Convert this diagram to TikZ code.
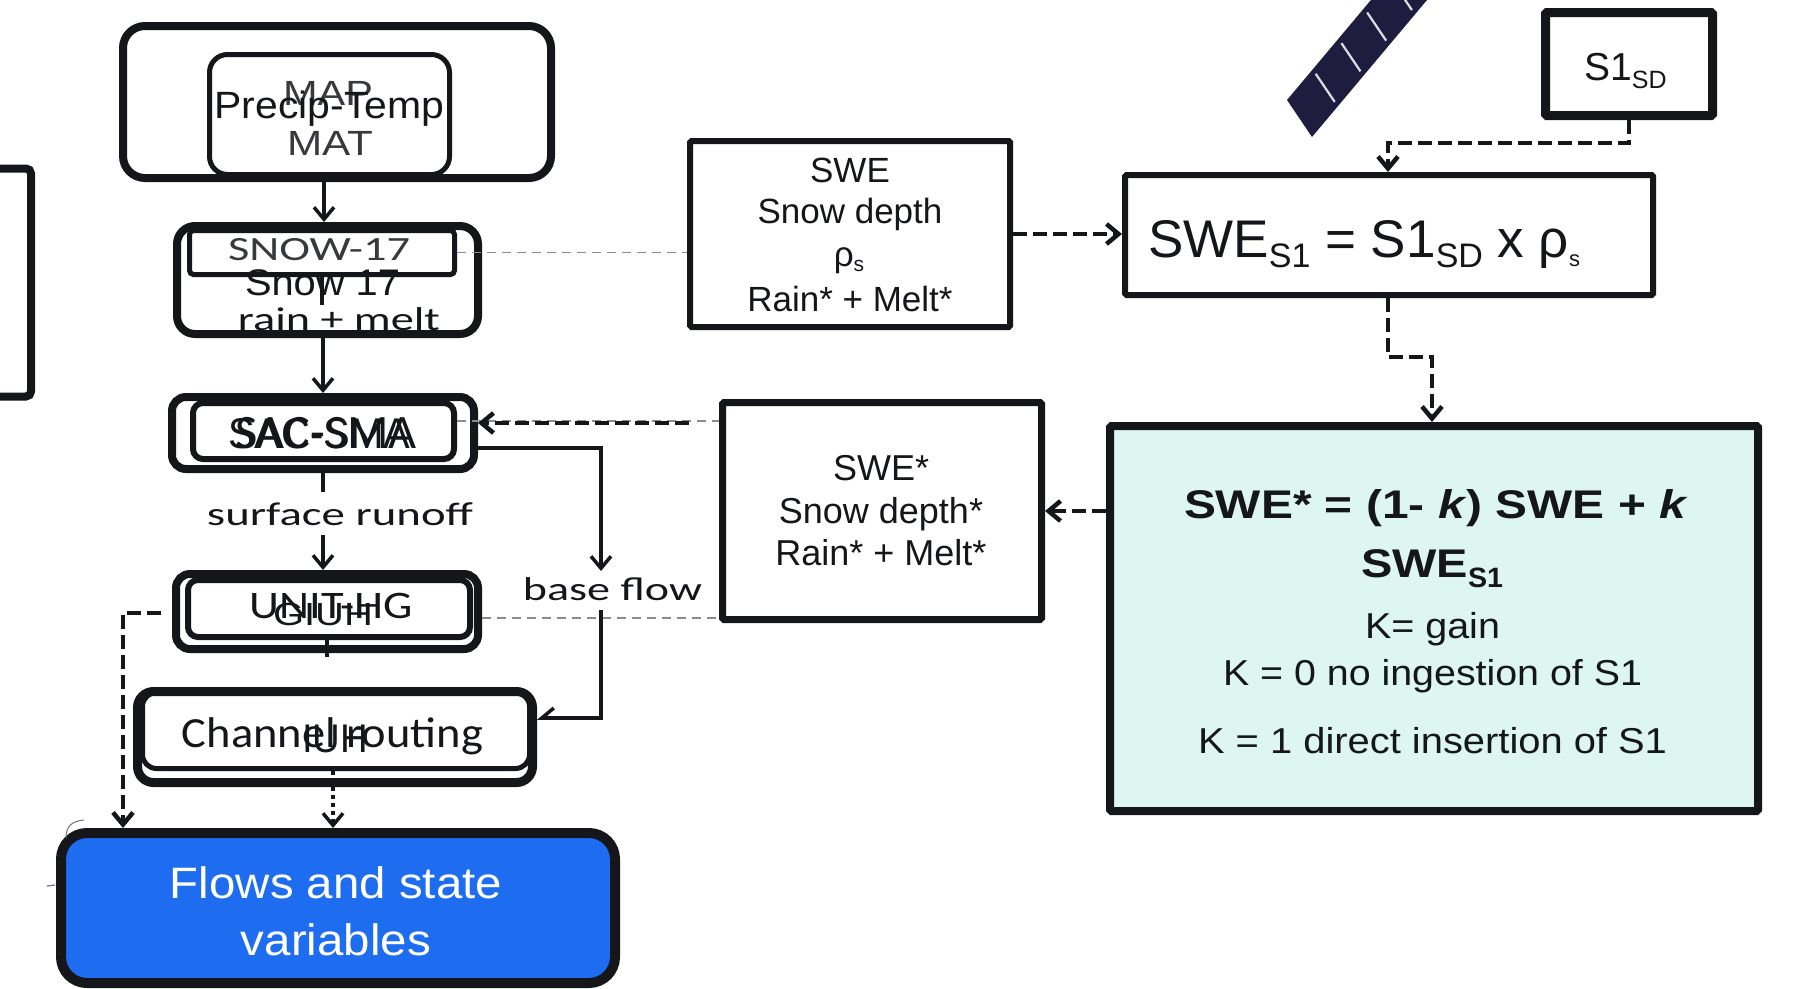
\documentclass[tikz,border=0pt]{standalone}
\usepackage{fontspec}
\usepackage{graphicx}
\setmainfont{Liberation Sans}
\newfontfamily\calib{Carlito}
\usetikzlibrary{arrows.meta,calc,shadows}

\definecolor{ink}{HTML}{141619}
\definecolor{flowblue}{RGB}{30,108,240}
\definecolor{kalfill}{RGB}{221,246,242}
\definecolor{panel}{HTML}{1F1D3F}

% font size in pt (1pt = 1 unit of the drawing)
\newcommand{\fs}[1]{\fontsize{#1}{#1}\selectfont}
% stretch a text to a given width, keeping its height
\newcommand{\fitw}[2]{\resizebox{#1pt}{\height}{#2}}

\tikzset{
  softshadow/.style={drop shadow={shadow xshift=2pt,shadow yshift=-3pt,opacity=0.15,fill=black}},
  rbox/.style={draw=ink, line width=8pt, fill=white, inner sep=0pt, rounded corners=16pt},
  ibox/.style={draw=ink, line width=5pt, inner sep=0pt, rounded corners=10pt},
  sbox/.style={draw=ink, line width=6pt, fill=white, inner sep=0pt, rounded corners=1.5pt},
  lbl/.style={anchor=base, inner sep=0pt, text=ink},
  plainline/.style={draw=ink, line width=3.5pt},
  arrowline/.style={draw=ink, line width=3.5pt, -{Straight Barb[length=12pt,width=20pt]}},
  halfarrow/.style={draw=ink, line width=3.5pt, -{Straight Barb[right,length=12pt,width=20pt]}},
  dasharrow/.style={arrowline, line width=4.5pt, dash pattern=on 14pt off 6pt},
  dotarrow/.style={arrowline, dash pattern=on 4pt off 4pt},
  greydash/.style={draw=black!45, line width=1.6pt, dash pattern=on 9pt off 6pt},
}

\begin{document}
\begin{tikzpicture}[x=1pt, y=-1pt]
\useasboundingbox (0,0) rectangle (1793,988);

% ---------------- left column: model chain ----------------
\node[sbox, line width=8pt, rounded corners=5pt, minimum width=131pt, minimum height=228pt] (sidebox) at (-34.5,282.5) {};

\node[rbox, softshadow, rounded corners=22pt, minimum width=428pt, minimum height=152pt] (preOut) at (337,102) {};
\node[ibox, rounded corners=18pt, minimum width=240pt, minimum height=120pt] (preIn) at (329.5,114.5) {};

\node[rbox, softshadow, rounded corners=18pt, minimum width=301pt, minimum height=108pt] (snOut) at (327.5,280) {};
\node[ibox, rounded corners=4pt, minimum width=265pt, minimum height=44pt] (snIn) at (322,252.5) {};

\node[rbox, softshadow, rounded corners=14pt, minimum width=302pt, minimum height=72pt] (sacOut) at (323,433) {};
\node[ibox, line width=6pt, minimum width=261pt, minimum height=56pt] (sacIn) at (323.5,431) {};

\node[rbox, softshadow, rounded corners=14pt, minimum width=302pt, minimum height=75pt] (unitOut) at (327,611.5) {};
\node[ibox, line width=6pt, minimum width=282pt, minimum height=57pt] (unitIn) at (329,608.5) {};

\node[rbox, softshadow, line width=9pt, minimum width=395pt, minimum height=91pt] (chanOut) at (335,737) {};
\node[ibox, rounded corners=14pt, minimum width=387pt, minimum height=76pt] (chanIn) at (336,730.5) {};

\node[rbox, line width=10pt, fill=flowblue, rounded corners=26pt, minimum width=554pt, minimum height=150pt] (flows) at (338,908) {};

% ---------------- right side: assimilation ----------------
\node[sbox, minimum width=320pt, minimum height=186pt] (swe) at (850,234) {};
\node[sbox, minimum width=528pt, minimum height=120pt] (sweS) at (1389,235) {};
\node[sbox, softshadow, line width=9pt, minimum width=167pt, minimum height=103pt] (sd) at (1629,64) {};
\node[sbox, line width=7pt, minimum width=319pt, minimum height=217pt] (sweStar) at (882,511) {};
\node[sbox, line width=8pt, fill=kalfill, minimum width=648pt, minimum height=385pt] (kal) at (1434,618.5) {};

% satellite solar panel
\begin{scope}
  \clip (0,0) rectangle (1793,988);
  \begin{scope}[shift={(1287,100)}, x={(0.643pt,0.766pt)}, y={(25pt,-37pt)}]
    \fill[panel] (0,0) -- (0,1) -- (230,1) -- (230,0) -- cycle;
    \foreach \d in {40,80,120,160,200}
      \draw[white!85!panel, line width=2.2pt] (\d,0.12) -- (\d,0.88);
  \end{scope}
\end{scope}

% ---------------- connectors ----------------
\coordinate (axisA) at (324,0);
\coordinate (axisB) at (323,0);
\coordinate (snStub) at (322,305);
\coordinate (uStub) at (327,657);
\coordinate (bfTop) at (601,571);
\coordinate (bfBot) at (601,610);
\coordinate (giuhOut) at (161,613);
\coordinate (leftRun) at (123,0);
\coordinate (dotCol) at (333,0);
\coordinate (sacFeed) at (689,423);
\coordinate (sdBend) at (1388,143);
\coordinate (kBend) at (1432,357);

% faint links to the state boxes
\draw[greydash] (snIn.east) -- (snIn.east -| swe.west);
\draw[greydash] ([yshift=10pt]sacIn.east) -- ([yshift=10pt]sacIn.east -| sweStar.west);
\draw[greydash] ([yshift=-6.5pt]unitOut.east) -- ([yshift=-6.5pt]unitOut.east -| sweStar.west);

\draw[arrowline] (preOut.south -| axisA) -- (snOut.north -| axisA);
\draw[arrowline] (snOut.south -| axisB) -- (sacOut.north -| axisB);
\draw[plainline] (snIn.south -| snStub) -- (snStub);
\draw[plainline] (unitIn.south -| uStub) -- (uStub);

\node[lbl, inner ysep=10pt] (runoff) at (340,525) {\calib\fs{33}\fitw{266}{surface runoff}};
\draw[plainline] (sacOut.south -| axisB) -- (runoff.north -| axisB);
\draw[arrowline] (runoff.south -| axisB) -- (unitOut.north -| axisB);

\draw[arrowline] ([yshift=-15pt]sacOut.east) -| (bfTop);
\draw[halfarrow] (bfBot) |- ([yshift=19pt]chanOut.east);

\draw[dasharrow] (giuhOut) -| (leftRun |- flows.north);
\draw[dotarrow] (chanIn.south -| dotCol) -- (dotCol |- flows.north);

\draw[dasharrow] (sacFeed) -- (sacFeed -| sacOut.east);
\draw[dasharrow] (swe.east) -- (swe.east -| sweS.west);
\draw[dasharrow] (sd.south) |- (sdBend) -- (sdBend |- sweS.north);
\draw[dasharrow] (sweS.south -| sdBend) |- (kBend) -- (kBend |- kal.north);
\draw[dasharrow] (kal.west |- sweStar.east) -- (sweStar.east);

% small pen marks near the output box
\draw[black!55, line width=1pt] (66,838) .. controls (66,826) and (72,821) .. (84,820);
\draw[black!55, line width=1.2pt] (47,886) -- (55,885);

% ---------------- labels ----------------
\node[lbl, text=ink!85] (tMap) at (328,105) {\fs{35}\fitw{90}{MAP}};
\node[lbl] (tPrecip) at (335,118) {\fs{38}\fitw{241}{Precip-Temp.}};
\node[lbl, text=ink!85] (tMat) at (330,155) {\fs{35}\fitw{86}{MAT}};

\node[lbl, text=ink!85] (tSnowA) at (319,260) {\calib\fs{34}\fitw{182}{SNOW-17}};
\node[lbl] (tSnowB) at (322.5,295) {\fs{37}\fitw{155}{Snow 17}};
\node[lbl] (tMelt) at (339,330) {\calib\fs{33}\fitw{202}{rain + melt}};

\node[lbl] (tSacA) at (319,448) {\fs{43}\fitw{182}{SAC-SMA}};
\node[lbl] (tSacB) at (326,448) {\calib\fs{48}\fitw{182}{SAC-SMA}};

\node[lbl] (tBase) at (612.5,600) {\calib\fs{33}\fitw{179}{base flow}};

\node[lbl] (tUnit) at (331.5,618) {\calib\fs{39}\fitw{163}{UNIT-HG}};
\node[lbl] (tGiuh) at (323,625) {\fs{32}\fitw{100}{GIUH}};

\node[lbl] (tChan) at (332.5,747) {\calib\fs{43}\fitw{301}{Channel routing}};
\node[lbl] (tIuh) at (335,752) {\fs{40}\fitw{66}{IUH}};

\node[lbl, text=white] (tFlowA) at (336,898) {\fs{44}\fitw{332}{Flows and state}};
\node[lbl, text=white] (tFlowB) at (336,955) {\fs{44}\fitw{190}{variables}};

\node[lbl] (tSwe1) at (850,182) {\fs{35}SWE};
\node[lbl] (tSwe2) at (850,223) {\fs{35}Snow depth};
\node[lbl] (tSwe3) at (849,266) {\fs{35}ρ\raisebox{-5pt}{\fs{21}s}};
\node[lbl] (tSwe4) at (850,311) {\fs{35}Rain* + Melt*};

\node[lbl, anchor=base west] (tSweS) at (1148,257)
  {\fs{53}SWE\raisebox{-10pt}{\fs{34}S1} = S1\raisebox{-10pt}{\fs{34}SD} x ρ\raisebox{-9pt}{\fs{22}s}};

\node[lbl, anchor=base west] (tSd) at (1584,80) {\fs{39}S1\raisebox{-8pt}{\fs{25}SD}};

\node[lbl] (tStar1) at (881,480) {\fs{36}SWE*};
\node[lbl] (tStar2) at (881,523) {\fs{36}Snow depth*};
\node[lbl] (tStar3) at (881,565) {\fs{36}Rain* + Melt*};

\node[lbl] (tKal1) at (1436,518) {\bfseries\fs{40}\fitw{504}{SWE* = (1- \textit{k}) SWE + \textit{k}}};
\node[lbl] (tKal2) at (1432,577) {\bfseries\fs{40}\fitw{107}{SWE}\raisebox{-10pt}{\fs{28}\fitw{35}{S1}}};
\node[lbl] (tKal3) at (1432.5,638) {\fs{36}\fitw{135}{K= gain}};
\node[lbl] (tKal4) at (1432.5,685) {\fs{36}\fitw{419}{K = 0 no ingestion of S1}};
\node[lbl] (tKal5) at (1432.5,753) {\fs{36}\fitw{469}{K = 1 direct insertion of S1}};

\end{tikzpicture}
\end{document}
